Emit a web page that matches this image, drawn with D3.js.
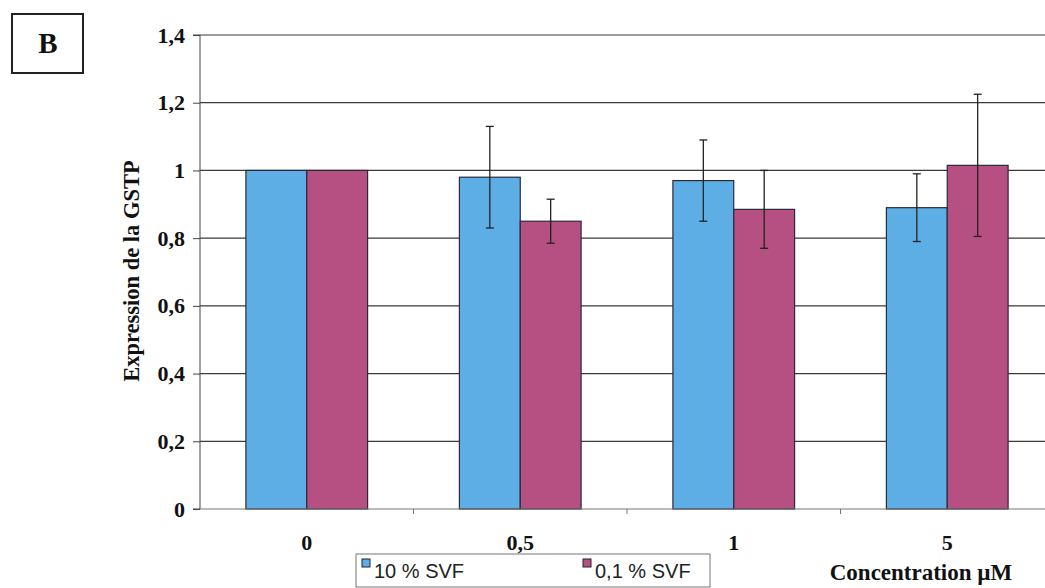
<!DOCTYPE html>
<html><head><meta charset="utf-8">
<script src="https://cdn.jsdelivr.net/npm/d3@7"></script>
<style>body{margin:0;background:#fff}svg{display:block}</style>
</head><body>
<script>
const categories = ["0", "0,5", "1", "5"];
const seriesNames = ["10 % SVF", "0,1 % SVF"];
const values10 = [1.0, 0.98, 0.97, 0.89];
const err10 = [0, 0.15, 0.12, 0.10];
const values01 = [1.0, 0.85, 0.885, 1.015];
const err01 = [0, 0.065, 0.115, 0.21];
const yTicks = [0, 0.2, 0.4, 0.6, 0.8, 1, 1.2, 1.4];
const colors = ["#5eaee6", "#b64f82"];

(function () {
const W = 1045, H = 588;
const serif = "'Liberation Serif', 'Times New Roman', serif";
const svg = d3.select("body").append("svg").attr("width", W).attr("height", H);
const mLeft = 200, mRight = 1054, mTop = 35, mBottom = 509;

const x = d3.scaleBand().domain(categories).range([mLeft, mRight]).paddingInner(0.43).paddingOuter(0.215);
const xs = d3.scaleBand().domain([0, 1]).range([0, x.bandwidth()]);
const y = d3.scaleLinear().domain([0, 1.4]).range([mBottom, mTop]);

// gridlines
svg.append("g").selectAll("line").data(yTicks.filter(d => d > 0)).join("line")
  .attr("x1", mLeft).attr("x2", W).attr("y1", d => y(d)).attr("y2", d => y(d))
  .attr("stroke", "#3a3a3a").attr("stroke-width", 1.2);

// bars
const data = categories.map((c, i) => [
  {c, s: 0, v: values10[i], e: err10[i]},
  {c, s: 1, v: values01[i], e: err01[i]}
]).flat();

svg.append("g").selectAll("rect").data(data).join("rect")
  .attr("x", d => x(d.c) + xs(d.s)).attr("width", xs.bandwidth())
  .attr("y", d => y(d.v)).attr("height", d => y(0) - y(d.v))
  .attr("fill", d => colors[d.s]).attr("stroke", "#2a2a3a").attr("stroke-width", 1.2);

// error bars
const eb = svg.append("g").attr("stroke", "#222").attr("stroke-width", 1.3);
data.filter(d => d.e > 0).forEach(d => {
  const cx = x(d.c) + xs(d.s) + xs.bandwidth() / 2;
  eb.append("line").attr("x1", cx).attr("x2", cx).attr("y1", y(d.v + d.e)).attr("y2", y(d.v - d.e));
  eb.append("line").attr("x1", cx - 4).attr("x2", cx + 4).attr("y1", y(d.v + d.e)).attr("y2", y(d.v + d.e));
  eb.append("line").attr("x1", cx - 4).attr("x2", cx + 4).attr("y1", y(d.v - d.e)).attr("y2", y(d.v - d.e));
});

// y axis
const yAxis = d3.axisLeft(y).tickValues(yTicks).tickSize(7).tickPadding(8)
  .tickFormat(d => String(d).replace(".", ","));
const gy = svg.append("g").attr("transform", `translate(${mLeft},0)`).call(yAxis);
gy.select(".domain").attr("stroke", "#444").attr("d", `M-7,${mTop}H0V${mBottom}H-7`);
gy.selectAll(".tick line").attr("stroke", "#444");
gy.selectAll("text").attr("font-family", serif)
  .attr("font-weight", "bold").attr("font-size", 22).attr("fill", "#111");

// x axis
const gx = svg.append("g").attr("transform", `translate(0,${mBottom})`);
gx.append("line").attr("x1", mLeft).attr("x2", W).attr("y1", 0).attr("y2", 0).attr("stroke", "#777").attr("stroke-width", 1.2);
const bounds = categories.slice(1).map(c => x(c) - x.step() * x.paddingInner() / 2);
gx.selectAll("line.t").data(bounds).join("line").attr("class", "t")
  .attr("x1", d => d).attr("x2", d => d).attr("y1", 0).attr("y2", 5).attr("stroke", "#777");
gx.selectAll("text").data(categories).join("text")
  .attr("x", d => x(d) + x.bandwidth() / 2).attr("y", 41)
  .attr("text-anchor", "middle").attr("font-family", serif)
  .attr("font-weight", "bold").attr("font-size", 22).attr("fill", "#111").text(d => d);

// y title
svg.append("text").attr("transform", `translate(139,271) rotate(-90)`).attr("text-anchor", "middle")
  .attr("font-family", serif).attr("font-weight", "bold")
  .attr("font-size", 22.5).attr("fill", "#111").text("Expression de la GSTP");

// x title
svg.append("text").attr("x", 921).attr("y", 580).attr("text-anchor", "middle")
  .attr("font-family", serif).attr("font-weight", "bold")
  .attr("font-size", 23).attr("fill", "#111").text("Concentration µM");

// B box
svg.append("rect").attr("x", 12).attr("y", 14).attr("width", 71).attr("height", 59)
  .attr("fill", "none").attr("stroke", "#222").attr("stroke-width", 2);
svg.append("text").attr("x", 48).attr("y", 53).attr("text-anchor", "middle")
  .attr("font-family", serif).attr("font-weight", "bold")
  .attr("font-size", 29).attr("fill", "#111").text("B");

// legend
const lg = svg.append("g");
lg.append("rect").attr("x", 356).attr("y", 554).attr("width", 354).attr("height", 33)
  .attr("fill", "#fff").attr("stroke", "#777").attr("stroke-width", 1);
const lx = [362, 583];
seriesNames.forEach((s, i) => {
  lg.append("rect").attr("x", lx[i]).attr("y", 559).attr("width", 8).attr("height", 8)
    .attr("fill", colors[i]).attr("stroke", "#223").attr("stroke-width", 1);
  lg.append("text").attr("x", lx[i] + 12).attr("y", 578)
    .attr("font-family", "'Liberation Sans', Arial, sans-serif").attr("font-size", 20)
    .attr("fill", "#222").text(s);
});
})();
</script>
</body></html>
